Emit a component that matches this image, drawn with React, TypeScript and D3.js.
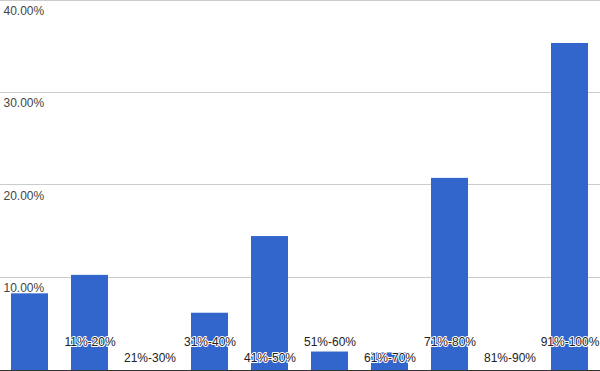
import React from "react";
import * as d3 from "d3";

const categories = ["1%-10%", "11%-20%", "21%-30%", "31%-40%", "41%-50%", "51%-60%", "61%-70%", "71%-80%", "81%-90%", "91%-100%"];
const values = [8.3, 10.3, 0, 6.2, 14.5, 2.0, 1.9, 20.8, 0, 35.4];
const yTicks = [10, 20, 30, 40];
const showLabel = [false, true, true, true, true, true, true, true, true, true];

const W = 600;
const H = 371;

export default function App() {
  const x = d3
    .scaleBand<string>()
    .domain(categories)
    .range([-0.5, W - 0.5])
    .paddingInner(23 / 60)
    .paddingOuter(11.5 / 60);
  const y = d3.scaleLinear().domain([0, 40]).range([370, 0.5]);
  const font = "Arial, 'Liberation Sans', sans-serif";

  return (
    <svg
      width={W}
      height={H}
      style={{ position: "absolute", left: 0, top: 0, background: "#fff" }}
    >
      {yTicks.map((t) => (
        <line
          key={"g" + t}
          x1={0}
          x2={W}
          y1={Math.round(y(t)) + 0.5 - 1}
          y2={Math.round(y(t)) + 0.5 - 1}
          stroke="#cccccc"
          strokeWidth={1}
        />
      ))}
      {categories.map((c, i) => (
        <rect
          key={"b" + c}
          x={x(c)!}
          y={y(values[i])}
          width={x.bandwidth()}
          height={y(0) - y(values[i])}
          fill="#3366cc"
        />
      ))}
      <line x1={0} x2={W} y1={370.5} y2={370.5} stroke="#333333" strokeWidth={1} />
      {yTicks.map((t) => (
        <text
          key={"t" + t}
          x={3.5}
          y={y(t) + 14.5}
          fontFamily={font}
          fontSize={12}
          fill="#444444"
        >
          {d3.format(".2f")(t) + "%"}
        </text>
      ))}
      {categories.map((c, i) =>
        showLabel[i] ? (
          <text
            key={"l" + c}
            x={x(c)! + x.bandwidth() / 2 + 0.5}
            y={i % 2 === 1 ? 346 : 362}
            textAnchor="middle"
            fontFamily={font}
            fontSize={12}
            fill="#222222"
            stroke="#ffffff"
            strokeWidth={2}
            strokeLinejoin="round"
            style={{ paintOrder: "stroke" }}
          >
            {c}
          </text>
        ) : null
      )}
    </svg>
  );
}
